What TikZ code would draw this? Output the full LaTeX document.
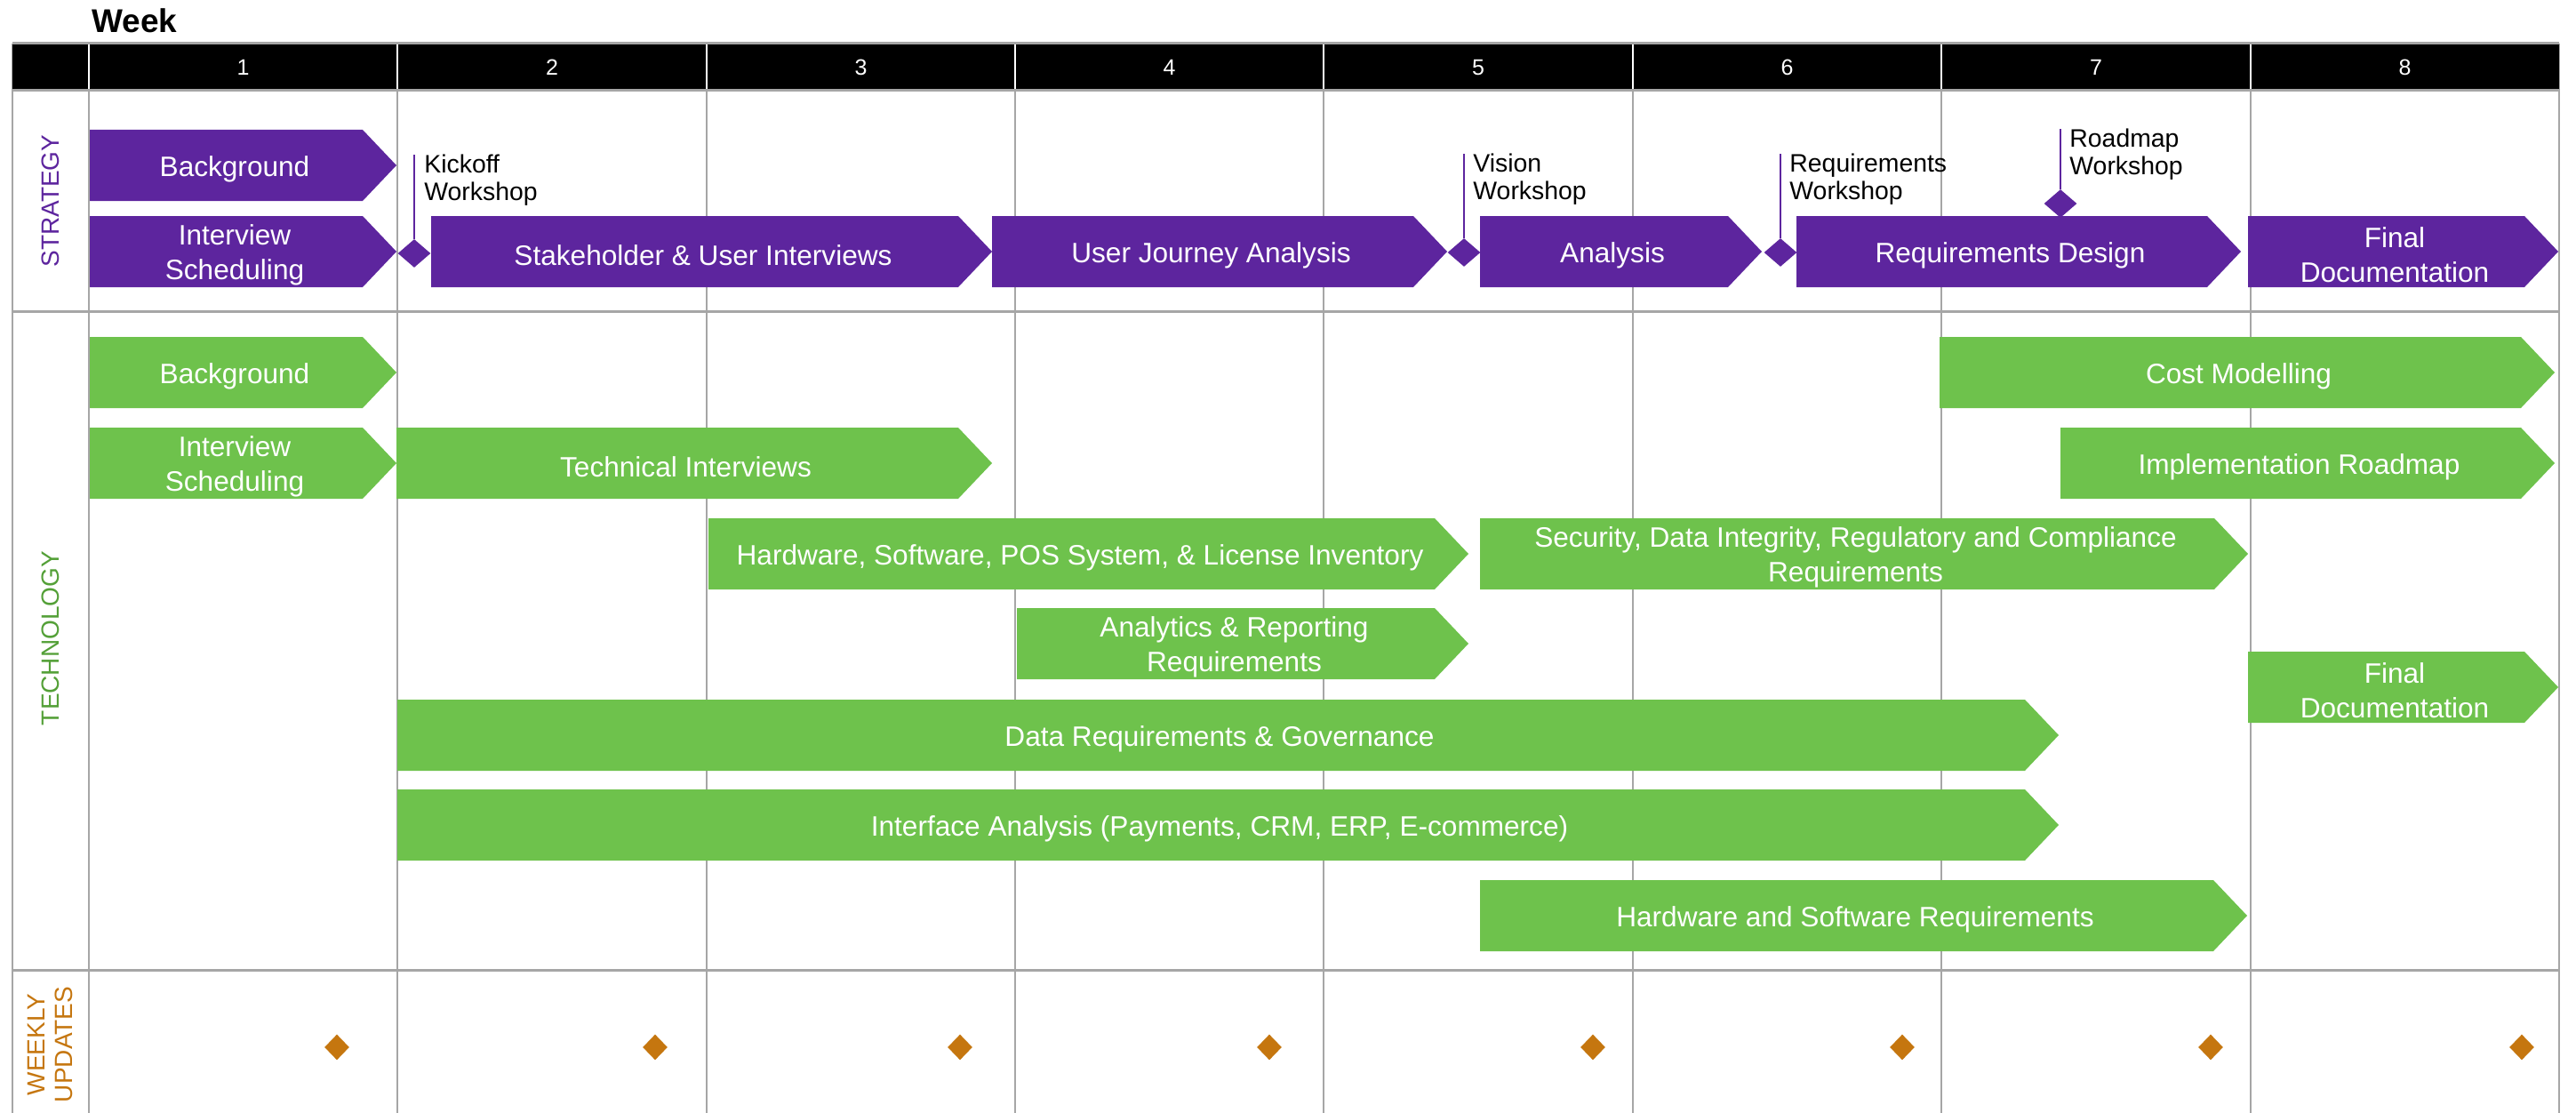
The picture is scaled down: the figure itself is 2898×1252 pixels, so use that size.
\documentclass[tikz,border=0pt]{standalone}
\usepackage{fontspec}
\setmainfont{Liberation Sans}
\usetikzlibrary{shapes.geometric}
\definecolor{strategy}{RGB}{93,37,158}
\definecolor{technology}{RGB}{110,194,76}
\definecolor{techlabel}{RGB}{84,160,56}
\definecolor{updates}{RGB}{197,118,15}
\definecolor{gridgray}{RGB}{166,166,166}
\tikzset{strat/.style = {fill=strategy}}
\tikzset{tech/.style = {fill=technology}}
\tikzset{bartext/.style = {text=white, align=center, inner sep=0, yshift=-2pt, font=\fontsize{15.8}{19.5}\selectfont}}
\tikzset{mstone/.style = {diamond, fill=strategy, inner sep=0, minimum width=18.5pt, minimum height=16pt}}
\tikzset{mlabel/.style = {anchor=north west, align=left, inner sep=0, font=\fontsize{14.2}{15.5}\selectfont}}
\tikzset{stem/.style = {draw=strategy, line width=0.8pt}}
\tikzset{update/.style = {diamond, fill=updates, inner sep=0, minimum width=14pt, minimum height=14.5pt}}
\tikzset{grid line/.style = {draw=gridgray, line width=1pt}}
\tikzset{section line/.style = {draw=gridgray, line width=1.5pt}}
\tikzset{weeknum/.style = {text=white, inner sep=0, font=\fontsize{12.5}{14}\selectfont}}
\tikzset{lane/.style = {rotate=90, align=center, inner sep=0, font=\fontsize{14}{15.5}\selectfont}}

\begin{document}
\begin{tikzpicture}[x=0.5pt, y=-0.5pt]
      \useasboundingbox (0,0) rectangle (2898,1252);

      % grid
      \draw [grid line] (14,49) -- (14,1252);
      \draw [grid line] (100,101) -- (100,1252);
      \draw [grid line] (447,101) -- (447,1252);
      \draw [grid line] (795,101) -- (795,1252);
      \draw [grid line] (1142,101) -- (1142,1252);
      \draw [grid line] (1489,101) -- (1489,1252);
      \draw [grid line] (1837,101) -- (1837,1252);
      \draw [grid line] (2184,101) -- (2184,1252);
      \draw [grid line] (2532,101) -- (2532,1252);
      \draw [grid line] (2879,49) -- (2879,1252);
      \draw [section line] (14,350) -- (2879,350);
      \draw [section line] (14,1091) -- (2879,1091);

      % header
      \node [anchor=base west, inner sep=0, font=\bfseries\fontsize{18.5}{22}\selectfont] (week) at (103,37) {Week};
      \fill [black] (14,49) rectangle (2879,101);
      \draw [white, line width=1pt] (100,49) -- (100,101);
      \draw [white, line width=1pt] (447,49) -- (447,101);
      \draw [white, line width=1pt] (795,49) -- (795,101);
      \draw [white, line width=1pt] (1142,49) -- (1142,101);
      \draw [white, line width=1pt] (1489,49) -- (1489,101);
      \draw [white, line width=1pt] (1837,49) -- (1837,101);
      \draw [white, line width=1pt] (2184,49) -- (2184,101);
      \draw [white, line width=1pt] (2532,49) -- (2532,101);
      \draw [section line] (14,49) -- (2879,49);
      \draw [section line] (14,102) -- (2879,102);
      \node [weeknum] (h1) at (273.5,76) {1};
      \node [weeknum] (h2) at (621,76) {2};
      \node [weeknum] (h3) at (968.5,76) {3};
      \node [weeknum] (h4) at (1315.5,76) {4};
      \node [weeknum] (h5) at (1663,76) {5};
      \node [weeknum] (h6) at (2010.5,76) {6};
      \node [weeknum] (h7) at (2358,76) {7};
      \node [weeknum] (h8) at (2705.5,76) {8};

      % lanes
      \node [lane, text=strategy] (strategy) at (57,226) {STRATEGY};
      \node [lane, text=techlabel] (technology) at (57,718) {TECHNOLOGY};
      \node [lane, text=updates] (updates) at (57,1175) {WEEKLY\\UPDATES};

      % strategy
      \fill [strat] (101,146) -- (408,146) -- (446,186) -- (408,226) -- (101,226) -- cycle;
      \node [bartext] (s-bg) at (264,186) {Background};
      \fill [strat] (101,243) -- (408,243) -- (446,283) -- (408,323) -- (101,323) -- cycle;
      \node [bartext] (s-sched) at (264,283) {Interview\\Scheduling};
      \fill [strat] (485,243) -- (1078,243) -- (1116,283) -- (1078,323) -- (485,323) -- cycle;
      \node [bartext] (s-interviews) at (791,283) {Stakeholder \& User Interviews};
      \fill [strat] (1116,243) -- (1590,243) -- (1628,283) -- (1590,323) -- (1116,323) -- cycle;
      \node [bartext] (s-journey) at (1362.5,283) {User Journey Analysis};
      \fill [strat] (1665,243) -- (1944,243) -- (1982,283) -- (1944,323) -- (1665,323) -- cycle;
      \node [bartext] (s-analysis) at (1814,283) {Analysis};
      \fill [strat] (2021,243) -- (2483,243) -- (2521,283) -- (2483,323) -- (2021,323) -- cycle;
      \node [bartext] (s-design) at (2261.5,283) {Requirements Design};
      \fill [strat] (2529,243) -- (2840,243) -- (2878,283) -- (2840,323) -- (2529,323) -- cycle;
      \node [bartext] (s-final) at (2694,283) {Final\\Documentation};

      % workshops
      \node [mstone] (kickoff) at (466,285) {};
      \node [mlabel] (kickoff-l) at (477,174) {Kickoff\\Workshop};
      \draw [stem] (kickoff.north) -- (kickoff.north |- kickoff-l.north);
      \node [mstone] (vision) at (1647,284) {};
      \node [mlabel] (vision-l) at (1657,173) {Vision\\Workshop};
      \draw [stem] (vision.north) -- (vision.north |- vision-l.north);
      \node [mstone] (reqs) at (2003,284) {};
      \node [mlabel] (reqs-l) at (2013,173) {Requirements\\Workshop};
      \draw [stem] (reqs.north) -- (reqs.north |- reqs-l.north);
      \node [mstone] (roadmap) at (2318,229) {};
      \node [mlabel] (roadmap-l) at (2328,145) {Roadmap\\Workshop};
      \draw [stem] (roadmap.north) -- (roadmap.north |- roadmap-l.north);

      % technology
      \fill [tech] (101,379) -- (408,379) -- (446,419) -- (408,459) -- (101,459) -- cycle;
      \node [bartext] (t-bg) at (264,419) {Background};
      \fill [tech] (101,481) -- (408,481) -- (446,521) -- (408,561) -- (101,561) -- cycle;
      \node [bartext] (t-sched) at (264,521) {Interview\\Scheduling};
      \fill [tech] (446,481) -- (1078,481) -- (1116,521) -- (1078,561) -- (446,561) -- cycle;
      \node [bartext] (t-interviews) at (771.5,521) {Technical Interviews};
      \fill [tech] (797,583) -- (1614,583) -- (1652,623) -- (1614,663) -- (797,663) -- cycle;
      \node [bartext] (t-inventory) at (1215,623) {Hardware, Software, POS System, \& License Inventory};
      \fill [tech] (1665,583) -- (2491,583) -- (2529,623) -- (2491,663) -- (1665,663) -- cycle;
      \node [bartext] (t-security) at (2087.5,623) {Security, Data Integrity, Regulatory and Compliance\\Requirements};
      \fill [tech] (1144,684) -- (1614,684) -- (1652,724) -- (1614,764) -- (1144,764) -- cycle;
      \node [bartext] (t-analytics) at (1388.5,724) {Analytics \& Reporting\\Requirements};
      \fill [tech] (447,787) -- (2278,787) -- (2316,827) -- (2278,867) -- (447,867) -- cycle;
      \node [bartext] (t-data) at (1372,827) {Data Requirements \& Governance};
      \fill [tech] (447,888) -- (2278,888) -- (2316,928) -- (2278,968) -- (447,968) -- cycle;
      \node [bartext] (t-interface) at (1372,928) {Interface Analysis (Payments, CRM, ERP, E-commerce)};
      \fill [tech] (1665,990) -- (2490,990) -- (2528,1030) -- (2490,1070) -- (1665,1070) -- cycle;
      \node [bartext] (t-hwsw) at (2087,1030) {Hardware and Software Requirements};
      \fill [tech] (2182,379) -- (2836,379) -- (2874,419) -- (2836,459) -- (2182,459) -- cycle;
      \node [bartext] (t-cost) at (2518.5,419) {Cost Modelling};
      \fill [tech] (2318,481) -- (2836,481) -- (2874,521) -- (2836,561) -- (2318,561) -- cycle;
      \node [bartext] (t-roadmap) at (2586.5,521) {Implementation Roadmap};
      \fill [tech] (2529,733) -- (2840,733) -- (2878,773) -- (2840,813) -- (2529,813) -- cycle;
      \node [bartext] (t-final) at (2694,773) {Final\\Documentation};

      % weekly updates
      \node [update] (w1) at (379,1178) {};
      \node [update] (w2) at (737,1178) {};
      \node [update] (w3) at (1080,1178) {};
      \node [update] (w4) at (1428,1178) {};
      \node [update] (w5) at (1792,1178) {};
      \node [update] (w6) at (2140,1178) {};
      \node [update] (w7) at (2487,1178) {};
      \node [update] (w8) at (2837,1178) {};
\end{tikzpicture}
\end{document}
